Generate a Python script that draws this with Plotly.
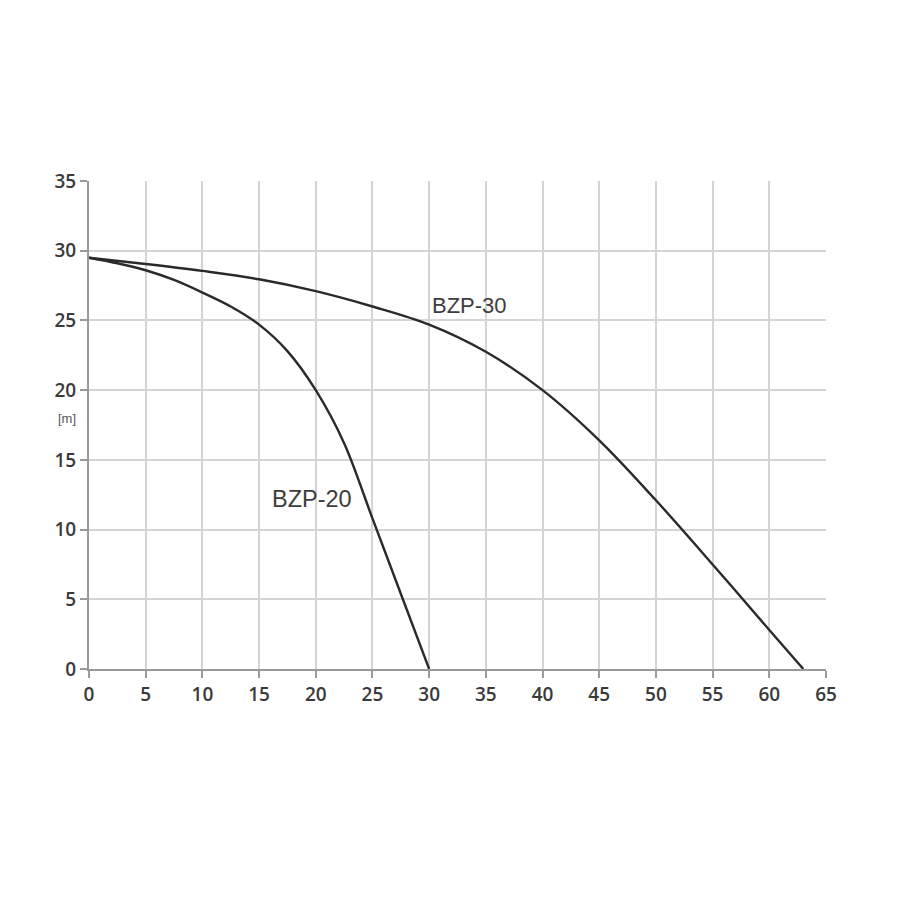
import plotly.graph_objects as go

bzp30_q = [0, 5, 10, 15, 20, 25, 30, 35, 40, 45, 50, 55, 60, 63]
bzp30_h = [29.5, 29.05, 28.55, 27.95, 27.1, 26.0, 24.7, 22.75, 20.0, 16.4, 12.1, 7.5, 2.8, 0]
bzp20_q = [0, 2.5, 5, 7.5, 10, 12.5, 15, 17.5, 20, 22.5, 25, 27.5, 30]
bzp20_h = [29.5, 29.1, 28.6, 27.9, 27.0, 26.0, 24.7, 22.8, 20.0, 16.2, 10.8, 5.4, 0]
x_ticks = list(range(0, 70, 5))
y_ticks = list(range(0, 40, 5))

line_style = dict(color="#2a2a2a", width=2.4, shape="spline", smoothing=1.0)
fig = go.Figure()
fig.add_trace(go.Scatter(x=bzp30_q, y=bzp30_h, mode="lines", line=line_style, showlegend=False))
fig.add_trace(go.Scatter(x=bzp20_q, y=bzp20_h, mode="lines", line=line_style, showlegend=False))

fig.add_annotation(x=33.55, y=26.1, text="BZP-30", showarrow=False,
                   font=dict(family="Liberation Sans", size=22, color="#3d3d3d"))
fig.add_annotation(x=19.64, y=12.2, text="BZP-20", showarrow=False,
                   font=dict(family="Liberation Sans", size=23.5, color="#3d3d3d"))
fig.add_annotation(xref="paper", yref="y", x=-0.045, y=18.0, text="[m]", showarrow=False,
                   font=dict(family="Liberation Sans", size=13, color="#555"))
fig.add_annotation(x=33.0, y=-1.1, text="[m<sup>3</sup>/h]", showarrow=False,
                   font=dict(family="Liberation Sans", size=13, color="#555"))

axis_font = dict(family="Open Sans", size=19, color="#3a3a3a", weight=600)
common = dict(showgrid=True, gridcolor="#d4d4d4", gridwidth=1.5,
              showline=True, linecolor="#9a9a9a", linewidth=2, ticks="outside", ticklen=7,
              tickcolor="#9a9a9a", tickwidth=2, tickfont=axis_font, zeroline=False, automargin=False)
fig.update_xaxes(range=[0, 65], tickvals=x_ticks, **common)
fig.update_yaxes(range=[0, 35], tickvals=y_ticks, **common)
fig.update_layout(width=900, height=900, margin=dict(l=81, r=82, t=173, b=239),
                  plot_bgcolor="white", paper_bgcolor="white")
fig.write_html("out.html")
